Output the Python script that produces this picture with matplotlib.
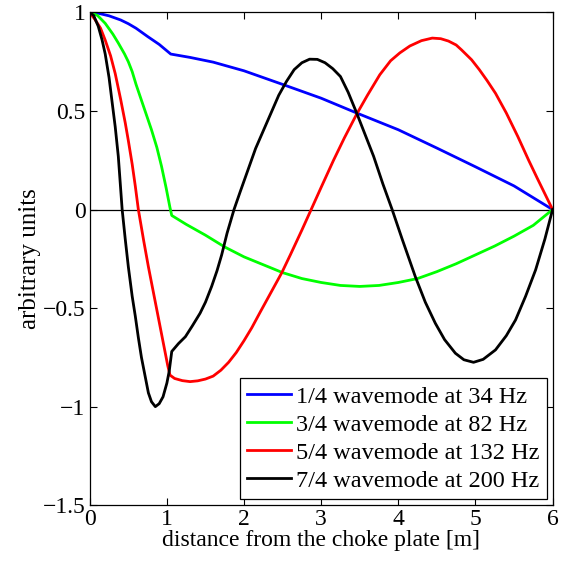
import matplotlib
matplotlib.use("Agg")
import matplotlib.pyplot as plt

plt.rcParams['font.family'] = ['Liberation Serif', 'DejaVu Serif']

# values
x_quarter = [0, 0.1, 0.25, 0.4, 0.5, 0.6, 0.75, 0.9, 1.05, 1.3, 1.6, 2.0, 2.5, 3.0, 3.46,
             4.0, 4.5, 5.0, 5.5, 6.0]
y_quarter = [1, 0.997, 0.983, 0.962, 0.943, 0.92, 0.878, 0.838, 0.789, 0.772, 0.748, 0.704,
             0.635, 0.565, 0.49, 0.405, 0.312, 0.217, 0.12, 0]

x_three = [0, 0.1, 0.2, 0.3, 0.37, 0.45, 0.5, 0.55, 0.6, 0.7, 0.8, 0.87, 0.93, 0.99, 1.04,
           1.063, 1.25, 1.5, 1.75, 2.0, 2.25, 2.5, 2.75, 3.0, 3.25, 3.5, 3.75, 4.0, 4.25,
           4.5, 4.75, 5.0, 5.25, 5.5, 5.75, 6.0]
y_three = [1, 0.985, 0.945, 0.89, 0.845, 0.79, 0.75, 0.70, 0.635, 0.52, 0.405, 0.315, 0.22,
           0.11, 0.01, -0.03, -0.075, -0.13, -0.19, -0.24, -0.28, -0.32, -0.35, -0.37,
           -0.385, -0.39, -0.385, -0.37, -0.35, -0.315, -0.275, -0.23, -0.185, -0.135,
           -0.08, 0]

x_five = [0, 0.07, 0.14, 0.2, 0.27, 0.33, 0.4, 0.46, 0.5, 0.55, 0.59, 0.63, 0.7, 0.76, 0.82,
          0.87, 0.93, 0.98, 1.01, 1.04, 1.1, 1.2, 1.3, 1.4, 1.5, 1.6, 1.7, 1.8, 1.9, 2.0,
          2.1, 2.21, 2.35, 2.49, 2.6, 2.75, 2.87, 3.0, 3.16, 3.3, 3.46, 3.6, 3.76, 3.9, 4.02,
          4.15, 4.3, 4.44, 4.55, 4.65, 4.75, 4.82, 4.95, 5.05, 5.15, 5.26, 5.4, 5.55, 5.69,
          5.8, 5.9, 6.0]
y_five = [1, 0.963, 0.92, 0.86, 0.78, 0.69, 0.56, 0.44, 0.35, 0.23, 0.12, 0, -0.16, -0.29,
          -0.41, -0.51, -0.63, -0.73, -0.79, -0.84, -0.857, -0.868, -0.873, -0.869, -0.86,
          -0.845, -0.815, -0.775, -0.725, -0.665, -0.6, -0.52, -0.42, -0.32, -0.23, -0.104,
          0, 0.113, 0.25, 0.363, 0.484, 0.58, 0.684, 0.755, 0.795, 0.83, 0.857, 0.87, 0.867,
          0.855, 0.835, 0.81, 0.76, 0.71, 0.655, 0.59, 0.49, 0.37, 0.25, 0.16, 0.08, 0]

x_seven = [0, 0.05, 0.11, 0.16, 0.2, 0.25, 0.285, 0.33, 0.37, 0.42, 0.46, 0.5, 0.55, 0.59,
           0.63, 0.67, 0.72, 0.76, 0.8, 0.85, 0.9, 0.95, 1.0, 1.03, 1.063, 1.15, 1.24, 1.33,
           1.43, 1.5, 1.58, 1.65, 1.71, 1.78, 1.87, 1.95, 2.05, 2.15, 2.25, 2.35, 2.45, 2.55,
           2.65, 2.75, 2.85, 2.95, 3.05, 3.15, 3.25, 3.35, 3.46, 3.55, 3.68, 3.8, 3.92, 4.05,
           4.22, 4.35, 4.48, 4.6, 4.74, 4.85, 4.975, 5.1, 5.26, 5.4, 5.52, 5.65, 5.78, 5.9, 6.0]
y_seven = [1, 0.985, 0.93, 0.86, 0.79, 0.67, 0.56, 0.42, 0.27, 0, -0.15, -0.29, -0.44, -0.54,
           -0.65, -0.75, -0.85, -0.93, -0.975, -1.0, -0.985, -0.95, -0.88, -0.82, -0.72,
           -0.68, -0.645, -0.59, -0.526, -0.47, -0.39, -0.31, -0.23, -0.12, 0, 0.09, 0.2,
           0.31, 0.40, 0.49, 0.58, 0.65, 0.71, 0.745, 0.763, 0.762, 0.745, 0.715, 0.675,
           0.595, 0.49, 0.40, 0.27, 0.13, 0, -0.15, -0.34, -0.47, -0.577, -0.66, -0.729,
           -0.762, -0.775, -0.76, -0.712, -0.64, -0.56, -0.44, -0.306, -0.15, 0]

labels = ['1/4 wavemode at 34 Hz', '3/4 wavemode at 82 Hz',
          '5/4 wavemode at 132 Hz', '7/4 wavemode at 200 Hz']
colors = ['#0000ff', '#00ff00', '#ff0000', '#000000']

fig = plt.figure(figsize=(5.61, 5.67), dpi=100)
ax = fig.add_axes([0.160, 0.109, 0.825, 0.869])

ax.axhline(0, color='black', lw=0.9, zorder=1)
series = [(x_quarter, y_quarter), (x_three, y_three), (x_five, y_five), (x_seven, y_seven)]
for (xs, ys), lab, c in zip(series, labels, colors):
    ax.plot(xs, ys, color=c, lw=2.0, label=lab, zorder=2)

ax.set_xlim(0, 6)
ax.set_ylim(-1.5, 1)
ax.set_xticks([0, 1, 2, 3, 4, 5, 6])
ax.set_yticks([-1.5, -1, -0.5, 0, 0.5, 1])
ax.set_yticklabels(['\u22121.5', '\u22121', '\u22120.5', '0', '0.5', '1'])
ax.tick_params(direction='in', top=True, right=True, length=5, width=0.8, labelsize=17, pad=3)
for s in ax.spines.values():
    s.set_linewidth(0.9)

ax.set_xlabel('distance from the choke plate [m]', fontsize=17, labelpad=0)
ax.set_ylabel('arbitrary units', fontsize=18, labelpad=1)

leg = ax.legend(loc='lower right', fontsize=17.5, fancybox=False, edgecolor='black',
                framealpha=1, handlelength=1.8, handletextpad=0.2, labelspacing=0.25,
                borderpad=0.3, borderaxespad=0.25)
leg.get_frame().set_linewidth(0.9)

fig.savefig('out.png', dpi=100)
